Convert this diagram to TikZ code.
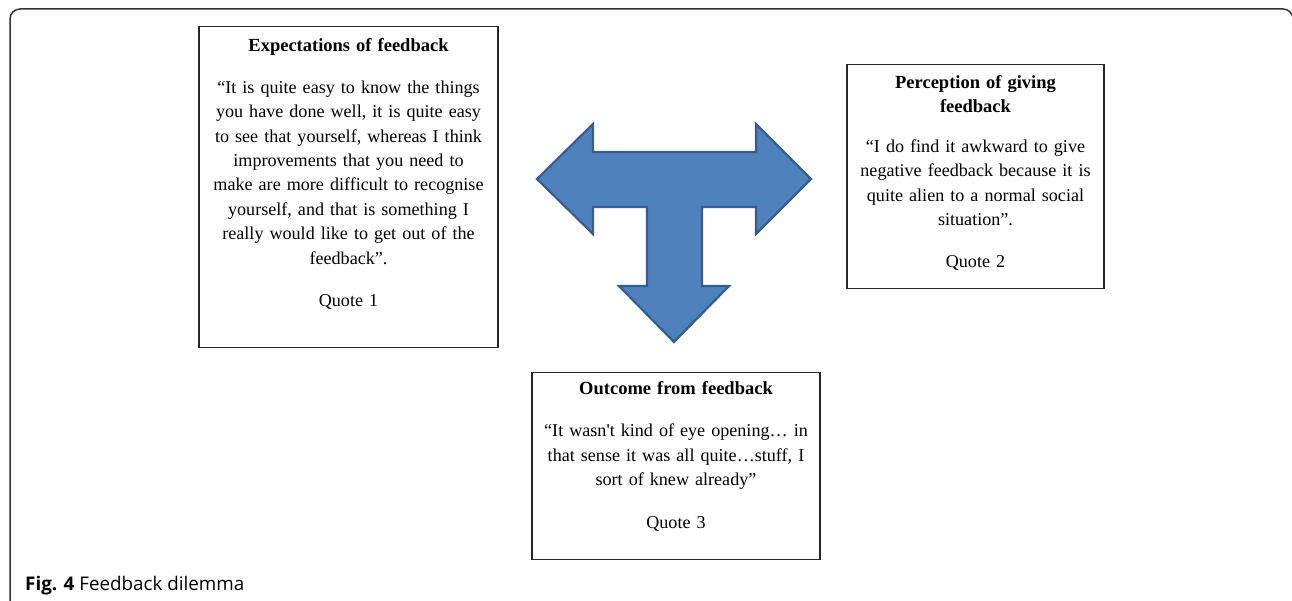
\documentclass[tikz,border=0pt]{standalone}
\usepackage{fontspec}
\setmainfont{Liberation Serif}
\newfontfamily\capfont{Open Sans}
\definecolor{arrowfill}{HTML}{4F81BD}
\definecolor{arrowdraw}{HTML}{385D8A}
\definecolor{framecol}{HTML}{333333}
\newcommand\boxtitle[1]{{\fontsize{18.5}{24.4}\selectfont\bfseries #1}}
\begin{document}
\begin{tikzpicture}[x=1pt,y=-1pt,
  quotebox/.style={draw=black!85, line width=1.3pt, inner sep=0pt, anchor=north,
    align=center, font=\fontsize{18.1}{24.4}\selectfont},
  tarrow/.style={fill=arrowfill, draw=arrowdraw, line width=2.2pt, line join=miter},
  frameline/.style={draw=framecol, line width=1.5pt, rounded corners=10pt},
  captext/.style={anchor=base west, inner sep=0pt, font=\capfont\fontsize{18.8}{22}\selectfont}]
\useasboundingbox (0,0) rectangle (1292,601);
% outer frame
\draw[frameline] (10,620) -- (10,9) -- (1293,9) -- (1293,620);
% T-shaped arrow
\draw[tarrow] (537,179) -- (593,124) -- (593,152) -- (756,152) -- (756,124) -- (811,179)
  -- (756,234) -- (756,207) -- (702,207) -- (702,286) -- (729,286) -- (674,342)
  -- (619,286) -- (647,286) -- (647,207) -- (593,207) -- (593,234) -- cycle;
% boxes
\node[quotebox, text width=299pt, text height=25pt, text depth=296pt] (expect) at (348.5,26)
  {\boxtitle{Expectations of feedback}\\[17.3pt]
   “It is quite easy to know the things\\
   you have done well, it is quite easy\\
   to see that yourself, whereas I think\\
   improvements that you need to\\
   make are more difficult to recognise\\
   yourself, and that is something I\\
   really would like to get out of the\\
   feedback”.\\[18.3pt]
   Quote 1};
\node[quotebox, text width=257pt, text height=24.3pt, text depth=199.7pt] (percep) at (975.5,64)
  {\boxtitle{Perception of giving}\\[-1pt]
   \boxtitle{feedback}\\[15.6pt]
   “I do find it awkward to give\\
   negative feedback because it is\\
   quite alien to a normal social\\
   situation”.\\[17.3pt]
   Quote 2};
\node[quotebox, text width=288pt, text height=22.3pt, text depth=164.7pt] (outcome) at (676,372)
  {\boxtitle{Outcome from feedback}\\[17.3pt]
   “It wasn\textquotesingle t kind of eye opening… in\\
   that sense it was all quite…stuff, I\\
   sort of knew already”\\[18.3pt]
   Quote 3};
% caption
\node[captext] (caption) at (25,590) {\textbf{Fig. 4} Feedback dilemma};
\end{tikzpicture}
\end{document}
